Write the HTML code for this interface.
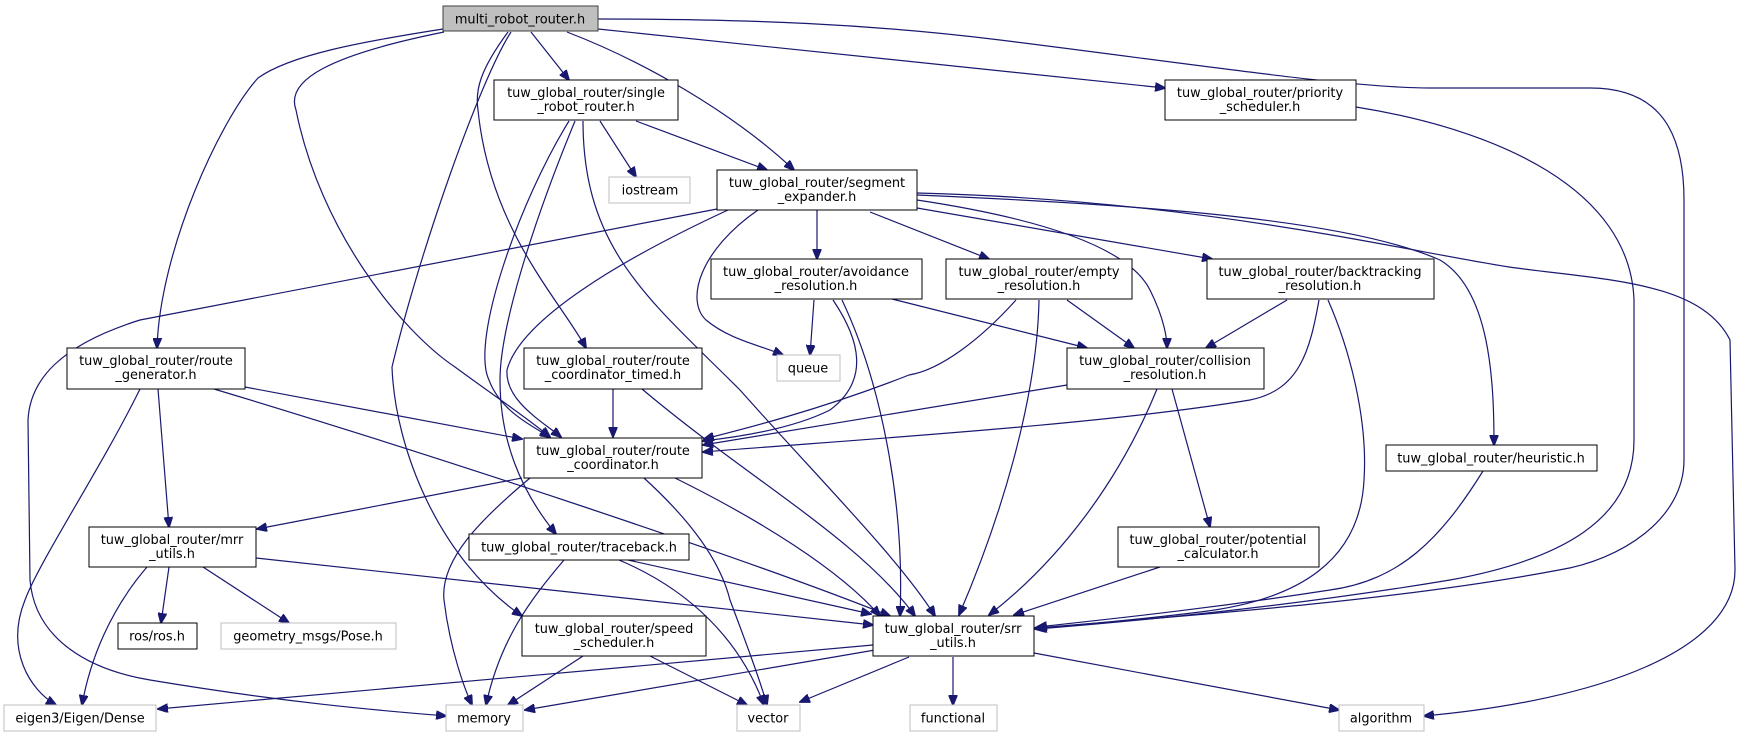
<!DOCTYPE html>
<html><head><meta charset="utf-8"><style>
html,body{margin:0;padding:0;background:#fff;}
svg{display:block;}
text{font-family:"DejaVu Sans","Liberation Sans",sans-serif;font-size:12.9px;fill:#000;text-anchor:middle;}
.n{fill:#fff;stroke:#000;stroke-width:1;}
.g{fill:#fff;stroke:#bfbfbf;stroke-width:1;}
.e{fill:none;stroke:#191970;stroke-width:1.2;}
</style></head><body>
<svg width="1741" height="737" viewBox="0 0 1741 737" xmlns="http://www.w3.org/2000/svg">
<defs>
<marker id="a" markerWidth="11" markerHeight="9" refX="10" refY="4.5" orient="auto" markerUnits="userSpaceOnUse">
<path d="M0,0 L11,4.5 L0,9 z" fill="#191970" stroke="#191970"/>
</marker>
</defs>
<g class="e" marker-end="url(#a)">
<path d="M443,29 C360,42 290,55 258,78 C220,120 160,250 157,348"/>
<path d="M444,32 C330,55 285,80 296,110 C320,230 400,330 455,367 C500,400 530,420 550,437"/>
<path d="M508,32 C480,70 475,90 478,110 C490,230 560,300 586,348"/>
<path d="M511,32 C480,80 420,250 392,367 C395,450 440,560 522,616"/>
<path d="M531,32 L569,80"/>
<path d="M567,32 C640,60 730,110 794,170"/>
<path d="M598,29 L1165,88"/>
<path d="M598,19 C750,19 870,24 1000,40 C1200,65 1350,88 1430,88 L1590,88 C1650,88 1684,120 1684,200 L1684,460 C1684,520 1620,560 1559,570 C1400,600 1200,615 1035,628"/>
<path d="M600,121 L636,177"/>
<path d="M636,121 L767,170"/>
<path d="M569,121 C520,200 470,340 489,380 C500,410 530,425 550,437"/>
<path d="M575,121 C530,230 500,330 500,380 C500,440 520,490 556,534"/>
<path d="M583,121 C583,250 650,300 740,390 C820,480 900,560 935,616"/>
<path d="M717,209 L140,320 C60,345 30,380 28,420 L30,580 C35,640 90,670 150,680 C300,705 400,712 446,716"/>
<path d="M728,210 C620,260 520,320 507,370 C505,400 540,420 561,437"/>
<path d="M758,210 C700,250 685,300 706,320 C730,340 760,345 783,355"/>
<path d="M817,210 L817,259"/>
<path d="M870,212 L989,259"/>
<path d="M917,208 L1212,259"/>
<path d="M917,200 C1050,220 1130,250 1150,290 C1165,320 1167,340 1167,348"/>
<path d="M917,195 C1150,205 1350,220 1440,260 C1490,290 1494,380 1494,445"/>
<path d="M917,193 C1200,200 1400,250 1509,267 C1600,280 1700,280 1730,340 L1735,570 C1735,650 1600,700 1424,716"/>
<path d="M814,300 L810,355"/>
<path d="M833,300 C860,340 870,380 830,410 C790,430 730,438 703,441"/>
<path d="M842,300 C880,380 905,500 900,616"/>
<path d="M892,299 L1087,348"/>
<path d="M1016,300 C980,340 940,370 909,375 C820,410 740,430 704,439"/>
<path d="M1039,300 C1037,400 1000,520 959,615"/>
<path d="M1067,300 L1134,348"/>
<path d="M1287,300 L1206,348"/>
<path d="M1319,300 C1310,350 1300,390 1250,400 C1100,425 850,440 703,452"/>
<path d="M1328,300 C1350,350 1368,420 1364,480 C1360,560 1300,600 1200,612 C1120,622 1060,626 1035,629"/>
<path d="M245,387 L522,439"/>
<path d="M158,389 L169,527"/>
<path d="M140,389 C100,470 40,560 25,600 C5,650 30,690 56,705"/>
<path d="M214,389 C450,460 750,560 890,616"/>
<path d="M613,389 L613,437"/>
<path d="M642,389 C750,480 860,540 915,616"/>
<path d="M1067,385 L703,445"/>
<path d="M1172,389 L1210,527"/>
<path d="M1157,389 C1120,480 1060,560 989,615"/>
<path d="M522,478 L257,529"/>
<path d="M530,478 C480,520 440,560 444,600 C450,650 465,690 472,705"/>
<path d="M644,478 C690,520 720,560 730,600 C745,640 760,680 767,705"/>
<path d="M675,478 C760,520 840,570 880,616"/>
<path d="M169,567 L161,623"/>
<path d="M203,567 L289,623"/>
<path d="M147,567 C110,610 90,660 82,705"/>
<path d="M256,558 L873,625"/>
<path d="M564,560 C530,600 500,640 486,705"/>
<path d="M619,560 C690,590 740,640 764,705"/>
<path d="M628,560 L871,614"/>
<path d="M583,656 L508,705"/>
<path d="M650,656 L747,705"/>
<path d="M873,645 L158,709"/>
<path d="M875,650 L525,710"/>
<path d="M909,657 L800,702"/>
<path d="M953,657 L953,705"/>
<path d="M1034,653 L1339,710"/>
<path d="M1483,471 C1440,540 1400,580 1330,590 C1200,610 1100,620 1037,627"/>
<path d="M1160,567 L1014,615"/>
<path d="M1356,107 C1500,130 1630,190 1634,300 L1634,440 C1634,520 1560,560 1450,580 C1300,605 1150,620 1037,629"/>
</g>

<rect x="443" y="6" width="155" height="25" fill="#bfbfbf" stroke="#404040"/>
<text x="520" y="23.5">multi_robot_router.h</text>
<rect class="n" x="494" y="80" width="184" height="40"/>
<text x="586" y="97">tuw_global_router/single</text><text x="586" y="111">_robot_router.h</text>
<rect class="n" x="1165" y="80" width="191" height="40"/>
<text x="1260" y="97">tuw_global_router/priority</text><text x="1260" y="111">_scheduler.h</text>
<rect class="g" x="609" y="177" width="81" height="26"/>
<text x="650" y="194.5">iostream</text>
<rect class="n" x="717" y="170" width="200" height="40"/>
<text x="817" y="187">tuw_global_router/segment</text><text x="817" y="201">_expander.h</text>
<rect class="n" x="711" y="259" width="211" height="40"/>
<text x="816" y="276">tuw_global_router/avoidance</text><text x="816" y="290">_resolution.h</text>
<rect class="n" x="946" y="259" width="186" height="40"/>
<text x="1039" y="276">tuw_global_router/empty</text><text x="1039" y="290">_resolution.h</text>
<rect class="n" x="1207" y="259" width="227" height="40"/>
<text x="1320" y="276">tuw_global_router/backtracking</text><text x="1320" y="290">_resolution.h</text>
<rect class="g" x="777" y="355" width="63" height="26"/>
<text x="808" y="372.5">queue</text>
<rect class="n" x="67" y="348" width="178" height="41"/>
<text x="156" y="365">tuw_global_router/route</text><text x="156" y="379">_generator.h</text>
<rect class="n" x="524" y="348" width="178" height="41"/>
<text x="613" y="365">tuw_global_router/route</text><text x="613" y="379">_coordinator_timed.h</text>
<rect class="n" x="1067" y="348" width="197" height="41"/>
<text x="1165" y="365">tuw_global_router/collision</text><text x="1165" y="379">_resolution.h</text>
<rect class="n" x="524" y="438" width="178" height="40"/>
<text x="613" y="455">tuw_global_router/route</text><text x="613" y="469">_coordinator.h</text>
<rect class="n" x="1386" y="445" width="211" height="26"/>
<text x="1491" y="462.5">tuw_global_router/heuristic.h</text>
<rect class="n" x="89" y="527" width="167" height="40"/>
<text x="172" y="544">tuw_global_router/mrr</text><text x="172" y="558">_utils.h</text>
<rect class="n" x="469" y="534" width="220" height="26"/>
<text x="579" y="551.5">tuw_global_router/traceback.h</text>
<rect class="n" x="1118" y="527" width="201" height="40"/>
<text x="1218" y="544">tuw_global_router/potential</text><text x="1218" y="558">_calculator.h</text>
<rect class="n" x="118" y="623" width="79" height="26"/>
<text x="157" y="640.5">ros/ros.h</text>
<rect class="g" x="221" y="623" width="175" height="26"/>
<text x="308" y="640.5">geometry_msgs/Pose.h</text>
<rect class="n" x="522" y="616" width="184" height="40"/>
<text x="614" y="633">tuw_global_router/speed</text><text x="614" y="647">_scheduler.h</text>
<rect class="n" x="873" y="616" width="161" height="40"/>
<text x="953" y="633">tuw_global_router/srr</text><text x="953" y="647">_utils.h</text>
<rect class="g" x="4" y="705" width="152" height="26"/>
<text x="80" y="722.5">eigen3/Eigen/Dense</text>
<rect class="g" x="446" y="705" width="77" height="26"/>
<text x="484" y="722.5">memory</text>
<rect class="g" x="737" y="705" width="63" height="26"/>
<text x="768" y="722.5">vector</text>
<rect class="g" x="910" y="705" width="87" height="26"/>
<text x="953" y="722.5">functional</text>
<rect class="g" x="1339" y="705" width="85" height="26"/>
<text x="1381" y="722.5">algorithm</text>
</svg>
</body></html>
